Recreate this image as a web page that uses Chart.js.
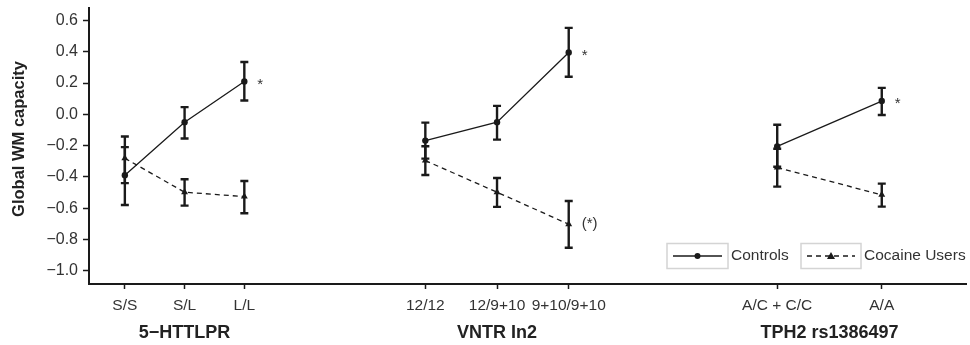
<!DOCTYPE html>
<html>
<head>
<meta charset="UTF-8">
<title>Global WM capacity by genotype</title>
<script src="https://cdn.jsdelivr.net/npm/chart.js"></script>
<style>
  body { margin: 0; background: #fff; }
  #wrap { width: 970px; height: 345px; }
</style>
</head>
<body>
<div id="wrap"><canvas id="wmChart" width="970" height="345"></canvas></div>
<script>
// panels (genes) and their genotype categories
var panels = ['5\u2212HTTLPR', 'VNTR In2', 'TPH2 rs1386497'];
var categories = [['S/S', 'S/L', 'L/L'], ['12/12', '12/9+10', '9+10/9+10'], ['A/C + C/C', 'A/A']];
// where each genotype sits on the shared x axis
var catPos = [[0.6, 1.6, 2.6], [5.63, 6.83, 8.03], [11.52, 13.27]];

// controls: mean and error bar ends
var controlsMean = [[-0.39, -0.05, 0.21], [-0.168, -0.05, 0.395], [-0.205, 0.085]];
var controlsLow  = [[-0.58, -0.155, 0.088], [-0.283, -0.162, 0.24], [-0.335, -0.004]];
var controlsHigh = [[-0.21, 0.046, 0.335], [-0.053, 0.054, 0.553], [-0.067, 0.169]];

// cocaine users: mean and error bar ends
var usersMean = [[-0.281, -0.498, -0.526], [-0.296, -0.498, -0.703], [-0.34, -0.515]];
var usersLow  = [[-0.44, -0.584, -0.633], [-0.388, -0.592, -0.853], [-0.462, -0.59]];
var usersHigh = [[-0.142, -0.415, -0.426], [-0.204, -0.407, -0.554], [-0.22, -0.443]];

// significance marks next to points
var controlsSig = [['', '', '*'], ['', '', '*'], ['', '*']];
var usersSig    = [['', '', ''], ['', '', '(*)'], ['', '']];

var yTicks = [-1.0, -0.8, -0.6, -0.4, -0.2, 0.0, 0.2, 0.4, 0.6];

var ink = '#1a1a1a';
var textCol = '#333';

function pts(means, p) {
    return means[p].map(function(m, i) { return {x: catPos[p][i], y: m}; });
}

var datasets = [];
for (var p = 0; p < panels.length; p++) {
    datasets.push({
        label: 'Controls', data: pts(controlsMean, p),
        low: controlsLow[p], high: controlsHigh[p], sig: controlsSig[p],
        borderColor: ink, backgroundColor: ink, borderWidth: 1.3,
        pointStyle: 'circle', pointRadius: 3.2, pointBorderWidth: 0
    });
    datasets.push({
        label: 'Cocaine Users', data: pts(usersMean, p),
        low: usersLow[p], high: usersHigh[p], sig: usersSig[p],
        borderColor: ink, backgroundColor: ink, borderWidth: 1.3, borderDash: [5, 4],
        pointStyle: 'triangle', pointRadius: 4, pointBorderWidth: 0
    });
}

var allPos = [].concat.apply([], catPos);
var allCats = [].concat.apply([], categories);

// error bars, significance stars, group titles and legend
var extras = {
    id: 'extras',
    afterDatasetsDraw: function(chart) {
        var ctx = chart.ctx;
        var y = chart.scales.y;
        var x = chart.scales.x;
        ctx.save();
        chart.data.datasets.forEach(function(ds, di) {
            var meta = chart.getDatasetMeta(di);
            meta.data.forEach(function(pt, i) {
                var lo = y.getPixelForValue(ds.low[i]);
                var hi = y.getPixelForValue(ds.high[i]);
                ctx.strokeStyle = ink;
                ctx.lineWidth = 2.4;
                ctx.setLineDash([]);
                ctx.beginPath();
                ctx.moveTo(pt.x, lo); ctx.lineTo(pt.x, hi);
                ctx.moveTo(pt.x - 4, lo); ctx.lineTo(pt.x + 4, lo);
                ctx.moveTo(pt.x - 4, hi); ctx.lineTo(pt.x + 4, hi);
                ctx.stroke();
                if (ds.sig[i]) {
                    ctx.fillStyle = textCol;
                    ctx.font = '15px "Liberation Sans", Arial, sans-serif';
                    ctx.textAlign = 'left';
                    ctx.textBaseline = 'middle';
                    var off = ds.sig[i] === '*' ? 3 : 0;
                    ctx.fillText(ds.sig[i], pt.x + 13, pt.y + off);
                }
            });
        });

        // gene names under each group
        ctx.fillStyle = '#222';
        ctx.font = 'bold 18px "Liberation Sans", Arial, sans-serif';
        ctx.textAlign = 'center';
        ctx.textBaseline = 'middle';
        panels.forEach(function(name, p) {
            var first = x.getPixelForValue(catPos[p][0]);
            var last = x.getPixelForValue(catPos[p][catPos[p].length - 1]);
            ctx.fillText(name, (first + last) / 2, 333);
        });

        // legend
        ctx.font = '15.5px "Liberation Sans", Arial, sans-serif';
        ctx.textAlign = 'left';
        var boxes = [
            {l: 667, w: 61, label: 'Controls', dash: [], marker: 'circle'},
            {l: 801, w: 60, label: 'Cocaine Users', dash: [5, 4], marker: 'triangle'}
        ];
        boxes.forEach(function(b) {
            ctx.setLineDash([]);
            ctx.strokeStyle = '#d4d4d4';
            ctx.lineWidth = 1.5;
            ctx.strokeRect(b.l, 243.5, b.w, 25);
            ctx.strokeStyle = ink;
            ctx.lineWidth = 1.3;
            ctx.setLineDash(b.dash);
            ctx.beginPath();
            ctx.moveTo(b.l + 6, 256); ctx.lineTo(b.l + b.w - 6, 256);
            ctx.stroke();
            ctx.setLineDash([]);
            ctx.fillStyle = ink;
            var cx = b.l + b.w / 2;
            ctx.beginPath();
            if (b.marker === 'circle') {
                ctx.arc(cx, 256, 3, 0, Math.PI * 2);
            } else {
                ctx.moveTo(cx, 252); ctx.lineTo(cx + 4, 259); ctx.lineTo(cx - 4, 259);
                ctx.closePath();
            }
            ctx.fill();
            ctx.fillStyle = textCol;
            ctx.fillText(b.label, b.l + b.w + 3, 256);
        });

        // y axis title, drawn here so it can sit where the original has it
        ctx.save();
        ctx.translate(19, 139);
        ctx.rotate(-Math.PI / 2);
        ctx.fillStyle = '#222';
        ctx.font = 'bold 16.5px "Liberation Sans", Arial, sans-serif';
        ctx.textAlign = 'center';
        ctx.textBaseline = 'middle';
        ctx.fillText('Global WM capacity', 0, 0);
        ctx.restore();
        ctx.restore();
    }
};

var ctx = document.getElementById('wmChart').getContext('2d');
var wmChart = new Chart(ctx, {
    type: 'line',
    data: { datasets: datasets },
    options: {
        responsive: false,
        animation: false,
        layout: { padding: { top: 8, right: 0, left: 0, bottom: 0 } },
        plugins: { legend: { display: false }, tooltip: { enabled: false } },
        scales: {
            x: {
                type: 'linear',
                min: 0,
                max: 14.68,
                afterBuildTicks: function(axis) {
                    axis.ticks = allPos.map(function(v) { return {value: v}; });
                },
                afterFit: function(axis) {
                    axis.height = 61;
                    axis.paddingLeft = 0;
                    axis.paddingRight = 0;
                },
                ticks: {
                    autoSkip: false,
                    maxRotation: 0,
                    padding: 7,
                    color: textCol,
                    font: { family: '"Liberation Sans", Arial, sans-serif', size: 15.5 },
                    callback: function(v) {
                        var i = allPos.indexOf(v);
                        return i >= 0 ? allCats[i] : '';
                    }
                },
                grid: { drawOnChartArea: false, tickLength: 5, tickColor: ink, tickWidth: 1.5 },
                border: { color: ink, width: 2 }
            },
            y: {
                min: -1.085,
                max: 0.68,
                afterBuildTicks: function(axis) {
                    axis.ticks = yTicks.map(function(v) { return {value: v}; });
                },
                afterFit: function(axis) {
                    axis.width = 89;
                    // the top label has room already, no extra padding needed
                    axis.paddingTop = 0;
                    axis.paddingBottom = 0;
                },
                ticks: {
                    padding: 5,
                    color: textCol,
                    font: { family: '"Liberation Sans", Arial, sans-serif', size: 16 },
                    callback: function(v) {
                        var s = Math.abs(v).toFixed(1);
                        return v < -0.001 ? '\u2212' + s : s;
                    }
                },
                grid: { drawOnChartArea: false, tickLength: 6, tickColor: ink, tickWidth: 1.5 },
                border: { color: ink, width: 2 }
            }
        }
    },
    plugins: [extras]
});
</script>
</body>
</html>
